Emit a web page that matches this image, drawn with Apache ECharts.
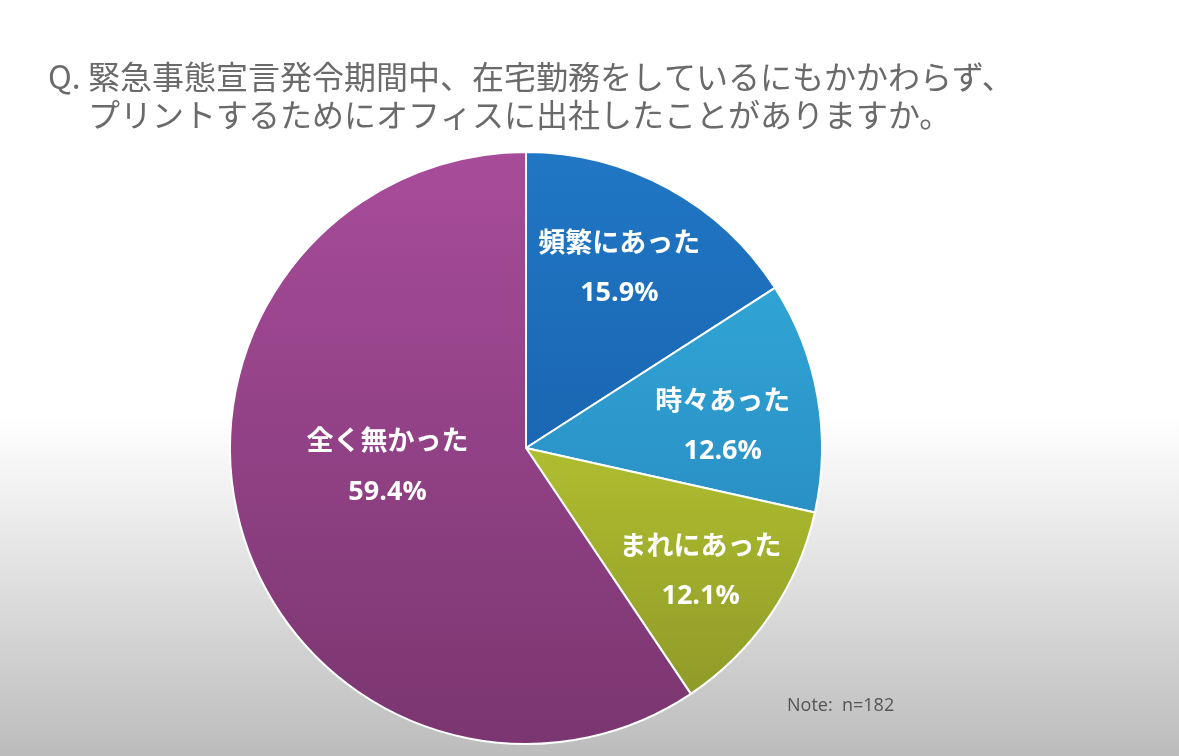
<!DOCTYPE html>
<html>
<head>
<meta charset="utf-8">
<script src="https://cdn.jsdelivr.net/npm/echarts@6/dist/echarts.min.js"></script>
<style>
html,body{margin:0;padding:0;background:#fff;}
#chart{width:1179px;height:756px;}
</style>
</head>
<body>
<div id="chart"></div>
<script>
const categories = ['頻繁にあった', '時々あった', 'まれにあった', '全く無かった'];
const values = [15.9, 12.6, 12.1, 59.4];
const titleLine1 = '緊急事態宣言発令期間中、在宅勤務をしているにもかかわらず、';
const titleLine2 = 'プリントするためにオフィスに出社したことがありますか。';
const noteText = 'Note:  n=182';

const sliceColors = [
  ['#2077c4', '#1a66b2'],
  ['#30a4d5', '#2a90c5'],
  ['#afbe2f', '#8f9b28'],
  ['#a84c9a', '#7a3670']
];
const labelOffsets = [[21, -48], [48, 4], [50, 37], [6, -26]];

const chart = echarts.init(document.getElementById('chart'));
const option = {
  backgroundColor: {
    type: 'linear', x: 0, y: 0, x2: 0, y2: 1,
    colorStops: [
      {offset: 0, color: '#ffffff'},
      {offset: 0.55, color: '#ffffff'},
      {offset: 0.75, color: '#e2e2e2'},
      {offset: 1, color: '#bcbcbc'}
    ]
  },
  title: [
    {
      text: 'Q.', left: 43, top: 53,
      textStyle: {fontFamily: 'Noto Sans CJK JP', fontWeight: 'normal', fontSize: 32, color: '#6a6a6a', lineHeight: 38}
    },
    {
      text: titleLine1 + '\n' + titleLine2, left: 83, top: 53,
      textStyle: {fontFamily: 'Noto Sans CJK JP', fontWeight: 'normal', fontSize: 32, color: '#6a6a6a', lineHeight: 38}
    },
    {
      text: noteText, left: 782, top: 692,
      textStyle: {fontFamily: 'Open Sans', fontWeight: 'normal', fontSize: 18, color: '#555555'}
    }
  ],
  series: [{
    type: 'pie',
    center: [526, 448],
    radius: 296,
    startAngle: 90,
    clockwise: true,
    silent: true,
    animation: false,
    itemStyle: {borderColor: '#ffffff', borderWidth: 2},
    label: {
      show: true,
      position: 'inside',
      formatter: p => '{n|' + p.name + '}\n{v|' + p.value.toFixed(1) + '%}',
      rich: {
        n: {fontFamily: 'Noto Sans CJK JP', fontWeight: 'bold', fontSize: 27, color: '#ffffff', lineHeight: 52, align: 'center'},
        v: {fontFamily: 'Open Sans', fontWeight: 'bold', fontSize: 27, color: '#ffffff', lineHeight: 52, align: 'center'}
      }
    },
    labelLine: {show: false},
    labelLayout: p => ({dx: labelOffsets[p.dataIndex][0], dy: labelOffsets[p.dataIndex][1]}),
    data: categories.map((c, i) => ({
      name: c,
      value: values[i],
      itemStyle: {
        color: {
          type: 'linear', x: 0, y: 0, x2: 0, y2: 1,
          colorStops: [{offset: 0, color: sliceColors[i][0]}, {offset: 1, color: sliceColors[i][1]}]
        }
      }
    }))
  }]
};
chart.setOption(option);
</script>
</body>
</html>
